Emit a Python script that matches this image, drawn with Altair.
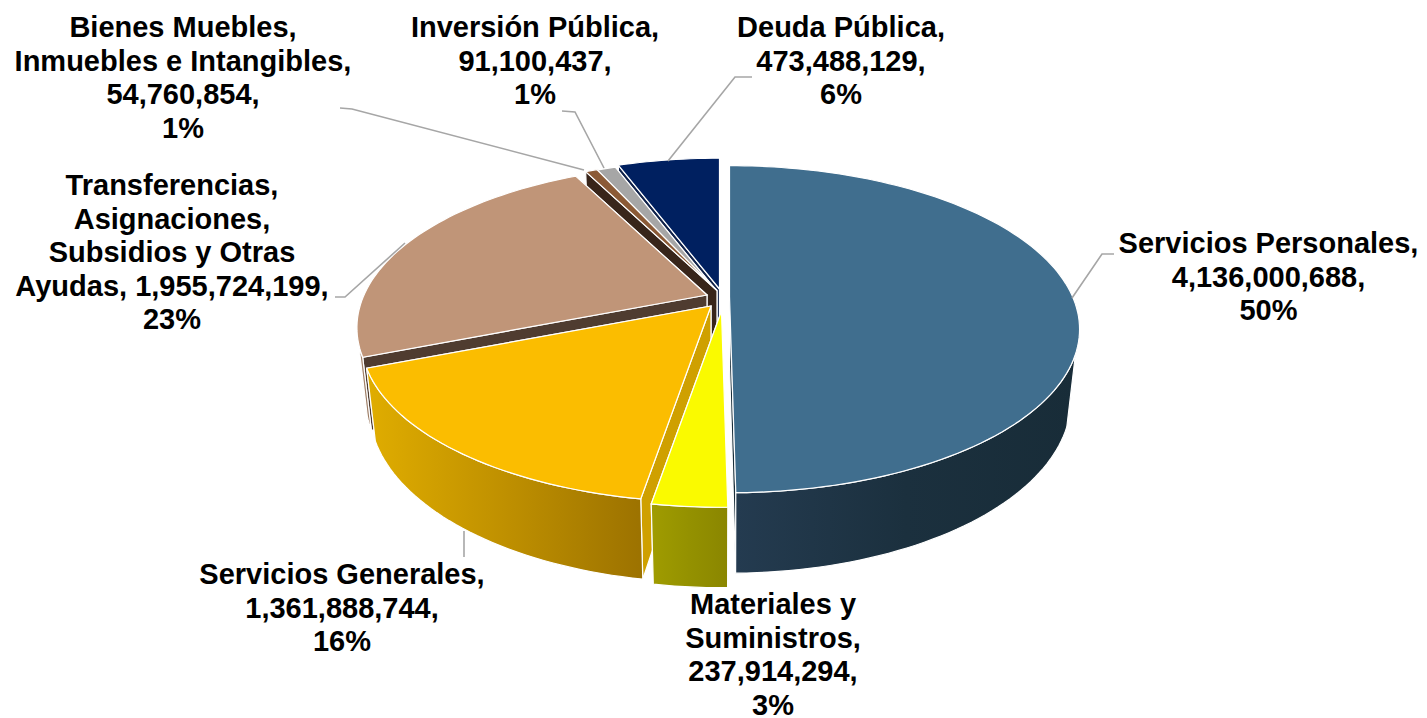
import math
import altair as alt

# ---- chart values -------------------------------------------------------
categories = ["Servicios Personales", "Materiales y Suministros", "Servicios Generales",
              "Transferencias, Asignaciones, Subsidios y Otras Ayudas",
              "Bienes Muebles, Inmuebles e Intangibles", "Inversión Pública", "Deuda Pública"]
values = [4136000688, 237914294, 1361888744, 1955724199, 54760854, 91100437, 473488129]
percents = ["50%", "3%", "16%", "23%", "1%", "1%", "6%"]
label_texts = [
    "Servicios Personales,\n4,136,000,688,\n50%",
    "Materiales y\nSuministros,\n237,914,294,\n3%",
    "Servicios Generales,\n1,361,888,744,\n16%",
    "Transferencias,\nAsignaciones,\nSubsidios y Otras\nAyudas, 1,955,724,199,\n23%",
    "Bienes Muebles,\nInmuebles e Intangibles,\n54,760,854,\n1%",
    "Inversión Pública,\n91,100,437,\n1%",
    "Deuda Pública,\n473,488,129,\n6%",
]

# ---- styles / layout (page pixels) --------------------------------------
top_colors = ["#406e8e", "#fafa00", "#fbbd00", "#c09578", "#8b5a36", "#a6a6a6", "#002060"]
cut_colors = ["#1a2e3a", "#8e8a00", "#cfa000", "#4f3c30", "#38251a", "#7c7c7c", "#10224a"]
wall_stops = [
    ["#243b50", "#1b303e", "#182c38"],
    ["#a09c00", "#949100", "#8a8600"],
    ["#e0ad00", "#bf9000", "#9c7200"],
    ["#a88a74", "#a08068", "#987860"],
    ["#6a4528", "#6a4528", "#6a4528"],
    ["#7c7c7c", "#7c7c7c", "#7c7c7c"],
    ["#0f2040", "#0f2040", "#0f2040"],
]
apexes = [(729.5, 296.5), (721.5, 311), (711, 306), (707, 295), (717, 290.5), (716.5, 291), (719.5, 289)]
label_pos = [(1268.5, 230), (773, 591), (342, 561), (172, 172), (183, 14), (535, 14), (841, 14)]
leaders = [
    [(1072, 298), (1102, 254), (1114, 254)],
    None,
    [(464, 531), (464, 557)],
    [(405, 243), (345, 297), (335, 297)],
    [(584, 170), (352, 109), (340, 108)],
    [(604, 168), (575, 112), (562, 111)],
    [(668, 161), (735, 77), (752, 77)],
]
draw_order = [6, 5, 4, 3, 2, 1, 0]
R, RK, P, DEPTH, DW = 343.0, 157.0, 0.20, 71.0, 0.024
WALL_FROM, WALL_TO = 110, 253
OFF = 8
WIDTH, HEIGHT = 1411, 710


def project(i, deg, r=1.0, z=0):
    a = math.radians(deg)
    X, Y = r * math.sin(a), r * math.cos(a)
    w = 1 + P * Y + DW * z
    ax, ay = apexes[i]
    return [ax + R * X / w - OFF, ay + (-RK * Y + DEPTH * z) / w - OFF]


def arc(i, a0, a1, z=0):
    n = max(2, int(abs(a1 - a0) / 1.5) + 1)
    return [project(i, a0 + (a1 - a0) * k / n, 1.0, z) for k in range(n + 1)]


def shape(coords, kind="Polygon", **mark):
    geom = {"type": kind, "coordinates": [coords + [coords[0]]] if kind == "Polygon" else coords}
    data = alt.InlineData(values={"type": "FeatureCollection",
                                  "features": [{"type": "Feature", "properties": {}, "geometry": geom}]},
                          format=alt.DataFormat(type="json", property="features"))
    return alt.Chart(data).mark_geoshape(**mark).project(type="identity", scale=1, translate=[0, 0])


total = sum(values)
starts, cum = [], 0
for v in values:
    starts.append(cum / total * 360)
    cum += v

layers = []
for i in draw_order:
    a0 = starts[i]
    a1 = a0 + values[i] / total * 360
    edge = dict(stroke="#ffffff", strokeWidth=1.2)
    apex_t, apex_b = project(i, 0, 0, 0), project(i, 0, 0, 1)
    for ang in (a1, a0):
        layers.append(shape([apex_t, project(i, ang), project(i, ang, 1, 1), apex_b],
                            fill=cut_colors[i], **edge))
    w0, w1 = max(a0, WALL_FROM), min(a1, WALL_TO)
    if w1 > w0:
        grad = alt.LinearGradient(
            gradient="linear", x1=0, x2=1, y1=0, y2=0,
            stops=[alt.GradientStop(color=c, offset=o)
                   for c, o in zip(wall_stops[i], (0, 0.5, 1))])
        layers.append(shape(arc(i, w0, w1) + arc(i, w1, w0, 1), fill=grad, **edge))
    layers.append(shape([apex_t] + arc(i, a0, a1), fill=top_colors[i], **edge))

for pts in leaders:
    if pts:
        layers.append(shape([[x - OFF, y - OFF] for x, y in pts], kind="LineString",
                            filled=False, stroke="#a6a6a6", strokeWidth=1.6))

label_rows = [{"category": c, "label": t, "px": p[0] - OFF, "py": p[1] - OFF}
              for c, t, p in zip(categories, label_texts, label_pos)]
labels = alt.Chart(alt.Data(values=label_rows)).mark_text(
    font="Liberation Sans", fontWeight="bold", fontSize=29, color="#000000",
    align="center", baseline="top", lineBreak="\n", lineHeight=33.6,
).encode(x=alt.X("px:Q", scale=None), y=alt.Y("py:Q", scale=None), text="label:N")
layers.append(labels)

chart = alt.layer(*layers).properties(
    width=WIDTH, height=HEIGHT, padding=0, background="#ffffff",
    autosize=alt.AutoSizeParams(type="none"),
).configure_view(stroke=None)

chart.save("out.html", embed_options={"renderer": "svg", "actions": False})
